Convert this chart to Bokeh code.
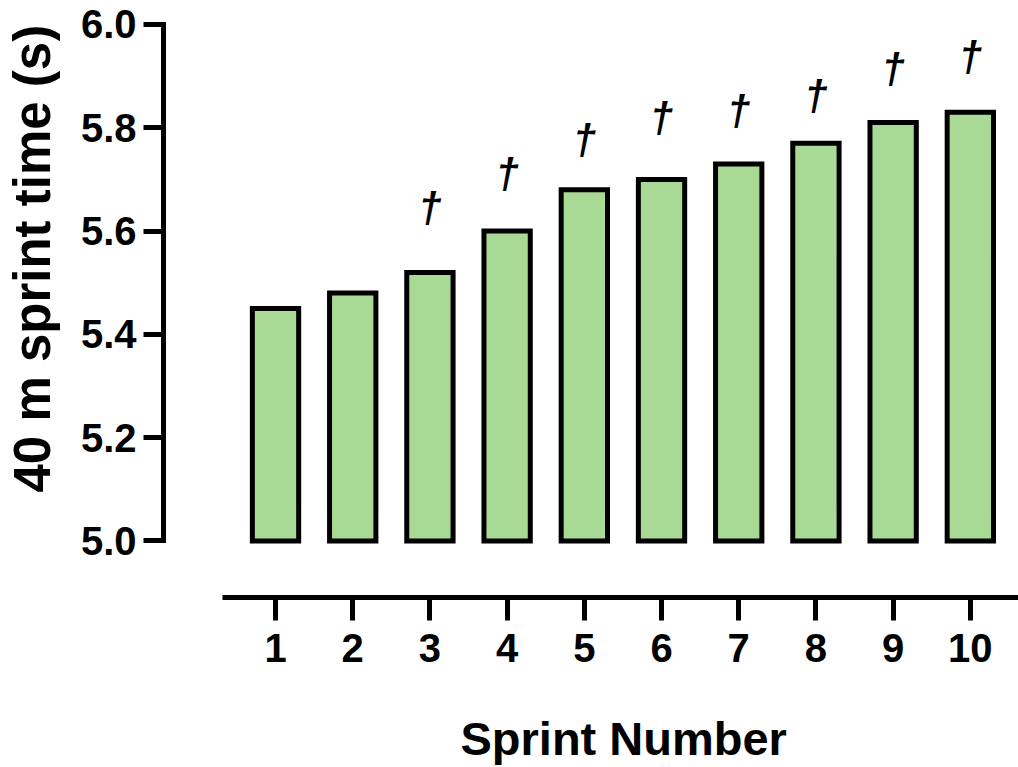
import math
from bokeh.plotting import figure
from bokeh.layouts import row, column
from bokeh.models import Range1d, FixedTicker, ColumnDataSource, Label
from bokeh.core.properties import value
from bokeh.embed import file_html
from bokeh.resources import INLINE

# ---- data ----
sprints = [1, 2, 3, 4, 5, 6, 7, 8, 9, 10]
sprint_time = [5.45, 5.48, 5.52, 5.60, 5.68, 5.70, 5.73, 5.77, 5.81, 5.83]
dagger_sprints = [3, 4, 5, 6, 7, 8, 9, 10]
dagger_y = [5.645, 5.711, 5.778, 5.820, 5.833, 5.862, 5.915, 5.938]
y_ticks = [5.0, 5.2, 5.4, 5.6, 5.8, 6.0]
y_tick_labels = ["5.0", "5.2", "5.4", "5.6", "5.8", "6.0"]
x_tick_labels = [str(s) for s in sprints]
baseline = 5.0
x_title = "Sprint Number"
y_title = "40 m sprint time (s)"

FONT = "Liberation Sans"

# ---- main chart ----
p = figure(width=958, height=690, output_backend="svg", toolbar_location=None,
           x_range=Range1d(-0.451, 10.624), y_range=Range1d(4.8906, 6.0387),
           min_border_left=103, min_border_right=0, min_border_top=4,
           min_border_bottom=93)
p.outline_line_color = None
p.xgrid.visible = False
p.ygrid.visible = False
p.background_fill_color = "white"
p.border_fill_color = "white"

src = ColumnDataSource(dict(x=sprints, top=sprint_time, bottom=[baseline] * len(sprints)))
p.vbar(x="x", top="top", bottom="bottom", width=0.6, source=src,
       fill_color="#a8d995", line_color="black", line_width=5, line_join="miter")

dsrc = ColumnDataSource(dict(x=dagger_sprints, y=dagger_y, t=["\u2020"] * len(dagger_sprints)))
p.text(x="x", y="y", text="t", source=dsrc, text_font=value(FONT),
       text_font_style="bold italic", text_font_size="42px", text_align="center",
       text_baseline="middle", text_color="black")

# y axis
ya = p.yaxis[0]
ya.ticker = FixedTicker(ticks=y_ticks)
ya.major_label_overrides = {t: l for t, l in zip(y_ticks, y_tick_labels)}
ya.bounds = (y_ticks[0], y_ticks[-1])
ya.axis_line_width = 5
ya.major_tick_line_width = 5
ya.major_tick_out = 20
ya.major_tick_in = 0
ya.minor_tick_line_color = None
ya.major_label_standoff = 7
ya.major_label_text_font = FONT
ya.major_label_text_font_style = "bold"
ya.major_label_text_font_size = "40px"
ya.major_label_text_color = "black"
ya.axis_line_cap = "square"

# x axis
xa = p.xaxis[0]
xa.ticker = FixedTicker(ticks=sprints)
xa.major_label_overrides = {s: l for s, l in zip(sprints, x_tick_labels)}
xa.bounds = (0.31, 10.624)
xa.axis_line_width = 5
xa.major_tick_line_width = 5
xa.major_tick_out = 23
xa.major_tick_in = 0
xa.minor_tick_line_color = None
xa.major_label_standoff = 13
xa.major_label_text_font = FONT
xa.major_label_text_font_style = "bold"
xa.major_label_text_font_size = "40px"
xa.major_label_text_color = "black"


def blank(width, height):
    f = figure(width=width, height=height, output_backend="svg", toolbar_location=None,
               x_range=Range1d(0, 1), y_range=Range1d(0, 1),
               x_axis_location=None, y_axis_location=None, min_border=0)
    f.outline_line_color = None
    f.grid.visible = False
    f.background_fill_color = "white"
    f.border_fill_color = "white"
    return f


# ---- y axis title panel ----
left = blank(60, 767)
left.add_layout(Label(x=32, y=275, x_units="screen", y_units="screen", text=y_title,
                      angle=math.pi / 2, text_font=FONT, text_font_style="bold",
                      text_font_size="51px", text_color="black", text_align="left",
                      text_baseline="alphabetic"))

# ---- x axis title panel ----
bottom = blank(958, 77)
bottom.add_layout(Label(x=297, y=29, x_units="screen", y_units="screen", text=x_title,
                        text_font=FONT, text_font_style="bold", text_font_size="47px",
                        text_color="black", text_align="left",
                        text_baseline="alphabetic"))

layout = row(left, column(p, bottom))

open("out.html", "w").write(file_html(layout, INLINE))
